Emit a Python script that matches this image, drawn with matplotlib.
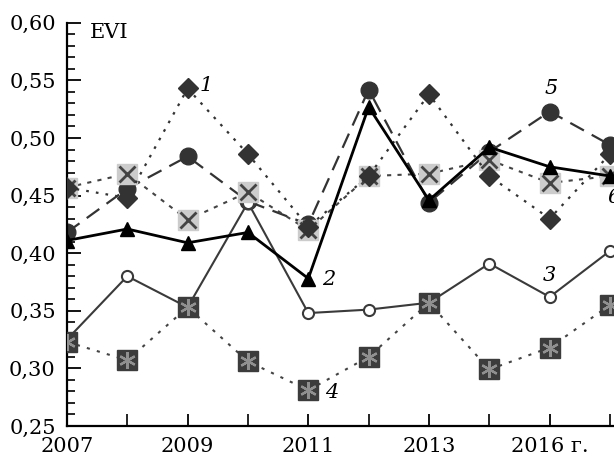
import matplotlib.pyplot as plt
import numpy as np
from matplotlib.ticker import MultipleLocator

# values (EVI by year)
positions = np.arange(10)
tick_pos = [0, 2, 4, 6, 8]
tick_labels = ['2007', '2009', '2011', '2013', '2016 г.']

evi_1 = [0.457, 0.448, 0.543, 0.486, 0.423, 0.467, 0.538, 0.467, 0.430, 0.486]
evi_2 = [0.411, 0.421, 0.409, 0.418, 0.378, 0.527, 0.446, 0.492, 0.475, 0.467]
evi_3 = [0.325, 0.380, 0.353, 0.444, 0.348, 0.351, 0.357, 0.391, 0.362, 0.402]
evi_4 = [0.323, 0.307, 0.353, 0.306, 0.281, 0.310, 0.357, 0.299, 0.318, 0.355]
evi_5 = [0.418, 0.456, 0.484, 0.445, 0.425, 0.542, 0.444, 0.488, 0.523, 0.494]
evi_6 = [0.457, 0.469, 0.429, 0.453, 0.420, 0.467, 0.469, 0.481, 0.461, 0.467]

plt.rcParams['font.family'] = ['DejaVu Serif']

fig = plt.figure(figsize=(6.14, 4.57), dpi=100)
ax = fig.add_axes([0.109, 0.068, 0.891, 0.882])

dark = '#333333'

# 5: filled circles, dashed
ax.plot(positions, evi_5, color=dark, lw=1.6, ls=(0, (7, 4)),
        marker='o', ms=12, mfc=dark, mec=dark, zorder=2)
# 3: open circles, solid
ax.plot(positions, evi_3, color='#3a3a3a', lw=1.5, ls='-',
        marker='o', ms=8, mfc='white', mec='#3a3a3a', mew=1.5, zorder=3)
# 4: dark squares with asterisk, dotted
ax.plot(positions, evi_4, color='#444444', lw=1.5, ls=(0, (1.5, 3.5)),
        marker='s', ms=15, mfc='#3c3c3c', mec='#3c3c3c', zorder=4)
ax.plot(positions, evi_4, ls='none', marker=(6, 2, 0), ms=12,
        mec='#909090', mew=1.6, zorder=5)
# 6: light squares with x, short dashes
ax.plot(positions, evi_6, color='#444444', lw=1.5, ls=(0, (2, 3)),
        marker='s', ms=15, mfc='#cccccc', mec='#cccccc', zorder=4)
ax.plot(positions, evi_6, ls='none', marker='x', ms=11,
        mec='#444444', mew=2, zorder=5)
# 1: diamonds, dotted
ax.plot(positions, evi_1, color=dark, lw=1.6, ls=(0, (1.2, 3.2)),
        marker='D', ms=10, mfc=dark, mec=dark, zorder=6)
# 2: triangles, solid black
ax.plot(positions, evi_2, color='black', lw=2, ls='-',
        marker='^', ms=10, mfc='black', mec='black', zorder=7)

ax.set_xlim(0, 9.066)
ax.set_ylim(0.25, 0.60)
ax.set_xticks(tick_pos)
ax.set_xticklabels(tick_labels)
ax.xaxis.set_minor_locator(MultipleLocator(1))
ax.yaxis.set_major_locator(MultipleLocator(0.05))
ax.yaxis.set_minor_locator(MultipleLocator(0.01))
ax.set_yticklabels([f'{v:.2f}'.replace('.', ',') for v in ax.get_yticks()])

for s in ['top', 'right']:
    ax.spines[s].set_visible(False)
for s in ['left', 'bottom']:
    ax.spines[s].set_linewidth(1.6)

ax.tick_params(axis='both', which='major', direction='in', length=10, width=1.3,
               labelsize=15, pad=8)
ax.tick_params(axis='both', which='minor', direction='in', length=6, width=1.2)
ax.tick_params(axis='x', which='both', length=9)
ax.tick_params(axis='x', which='major', pad=8)

ax.text(0.38, 0.600, 'EVI', fontsize=15, va='top', ha='left')
ax.text(2.30, 0.546, '1', fontsize=15, style='italic', va='center', ha='center')
ax.text(4.34, 0.377, '2', fontsize=15, style='italic', va='center', ha='center')
ax.text(8.00, 0.381, '3', fontsize=15, style='italic', va='center', ha='center')
ax.text(4.39, 0.279, '4', fontsize=15, style='italic', va='center', ha='center')
ax.text(8.02, 0.543, '5', fontsize=15, style='italic', va='center', ha='center')
ax.text(8.95, 0.448, '6', fontsize=15, style='italic', va='center', ha='left',
        clip_on=False)

fig.savefig('out.png', dpi=100)
